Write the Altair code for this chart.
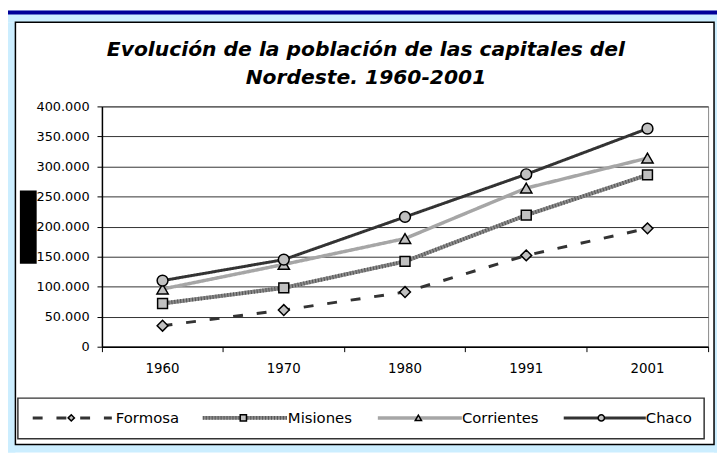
import altair as alt
import pandas as pd

# ---------------- data ----------------
years = ["1960", "1970", "1980", "1991", "2001"]
series_names = ["Formosa", "Misiones", "Corrientes", "Chaco"]
formosa = [35000, 61000, 91000, 152000, 197000]
misiones = [72000, 98000, 142000, 219000, 286000]
corrientes = [96000, 137000, 180000, 264000, 314000]
chaco = [110000, 145000, 216000, 287000, 363000]
y_ticks = [0, 50000, 100000, 150000, 200000, 250000, 300000, 350000, 400000]
title_lines = ["Evolución de la población de las capitales del", "Nordeste. 1960-2001"]

series_values = {"Formosa": formosa, "Misiones": misiones,
                 "Corrientes": corrientes, "Chaco": chaco}
rows = [{"year": y, "series": s, "value": v}
        for s in series_names for y, v in zip(years, series_values[s])]
df = pd.DataFrame(rows)
one = pd.DataFrame({"k": [0]})

# ---------------- styling ----------------
W, H = 613, 243
FONT = "DejaVu Sans"
TITLE_FONT = "DejaVu Sans"
LIGHT_BLUE = "#CCEEFF"
DARK_BLUE = "#000099"
MARK_FILL = "#C0C0C0"

styles = {
    "Formosa": dict(color="#333333", width=3, dash=[10, 14], shape="diamond", size=120),
    "Misiones": dict(color="#8C8C8C", width=4, dash=[1, 0], shape="square", size=100),
    "Corrientes": dict(color="#A6A6A6", width=3.5, dash=[1, 0], shape="triangle-up", size=130),
    "Chaco": dict(color="#333333", width=3, dash=[1, 0], shape="circle", size=120),
}
# legend layout: line start, line end, marker x, label x (plot pixel space)
legend_layout = {
    "Formosa": (-70, 10, -31, 14),
    "Misiones": (102, 187, 143, 188),
    "Corrientes": (279, 364, 320, 364),
    "Chaco": (467, 550, 505, 550),
}
LEG_Y = 315

x_enc = alt.X(
    "year:O", sort=years,
    scale=alt.Scale(type="band", domain=years, paddingInner=0, paddingOuter=0),
    bandPosition=0.5,
    axis=alt.Axis(title=None, bandPosition=1, tickExtra=True,
                  tickSize=5, labelPadding=10, grid=False, labelAngle=0,
                  labelFontSize=13.5),
)
y_enc = alt.Y(
    "value:Q",
    scale=alt.Scale(domain=[0, 400000], nice=False),
    axis=alt.Axis(title=None, values=y_ticks,
                  labelExpr="replace(format(datum.value, ','), ',', '.')",
                  tickSize=5, labelPadding=8, grid=True, gridColor="#333333",
                  gridWidth=1, labelFontSize=13),
)


def rect(x, x2, y, y2, **kw):
    return alt.Chart(one).mark_rect(**kw).encode(
        x=alt.value(x), x2=alt.value(x2), y=alt.value(y), y2=alt.value(y2))


layers = []
# frame around the white panel
layers.append(rect(-95, 622, -97, -85, color=LIGHT_BLUE))
layers.append(rect(-95, 622, -97, -93, color=DARK_BLUE))
layers.append(rect(-95, -87.5, -85, 350, color=LIGHT_BLUE))
layers.append(rect(619, 622, -85, 350, color=LIGHT_BLUE))
layers.append(rect(-95, 622, 342, 350, color=LIGHT_BLUE))
layers.append(rect(-87.5, 619, -85, 342, fill="white", fillOpacity=0,
                   stroke="black", strokeWidth=1.5))
# black block left of the axis
layers.append(rect(-83, -66, 85, 159, color="black"))
# legend box
layers.append(rect(-85, 609, 295, 336, fill="white", stroke="#333333", strokeWidth=1.5))

# title
for i, line in enumerate(title_lines):
    layers.append(alt.Chart(one).mark_text(
        font=TITLE_FONT, fontSize=20.5, fontWeight="bold", fontStyle="italic",
        color="black", align="center", baseline="alphabetic").encode(
        x=alt.value(267), y=alt.value(-51 + 28 * i), text=alt.value(line)))

# series lines
for s in series_names:
    st = styles[s]
    base = alt.Chart(df).transform_filter(alt.datum.series == s)
    layers.append(base.mark_line(color=st["color"], strokeWidth=st["width"],
                                 strokeDash=st["dash"]).encode(x=x_enc, y=y_enc))
    if s == "Misiones":
        layers.append(base.mark_line(color="#555555", strokeWidth=st["width"],
                                     strokeDash=[1, 2]).encode(x=x_enc, y=y_enc))

# series markers
for s in series_names:
    st = styles[s]
    base = alt.Chart(df).transform_filter(alt.datum.series == s)
    layers.append(base.mark_point(shape=st["shape"], size=st["size"], filled=True,
                                  fill=MARK_FILL, stroke="black", strokeWidth=1.5,
                                  opacity=1).encode(x=x_enc, y=y_enc))

# custom legend
for s in series_names:
    st = styles[s]
    x0, x1, mx, tx = legend_layout[s]
    layers.append(alt.Chart(one).mark_rule(color=st["color"], strokeWidth=st["width"],
                                           strokeDash=st["dash"]).encode(
        x=alt.value(x0), x2=alt.value(x1), y=alt.value(LEG_Y)))
    if s == "Misiones":
        layers.append(alt.Chart(one).mark_rule(color="#555555", strokeWidth=st["width"],
                                               strokeDash=[1, 2]).encode(
            x=alt.value(x0), x2=alt.value(x1), y=alt.value(LEG_Y)))
    layers.append(alt.Chart(one).mark_point(shape=st["shape"], size=40, filled=True,
                                            fill=MARK_FILL, stroke="black",
                                            strokeWidth=1.5, opacity=1).encode(
        x=alt.value(mx), y=alt.value(LEG_Y)))
    layers.append(alt.Chart(one).mark_text(font=FONT, fontSize=15, color="black",
                                           align="left", baseline="middle").encode(
        x=alt.value(tx), y=alt.value(LEG_Y), text=alt.value(s)))

chart = alt.layer(*layers).properties(
    width=W, height=H,
    padding={"left": 95, "top": 97, "right": 9, "bottom": 107},
    autosize=alt.AutoSizeParams(type="none"),
    background="white",
).configure_view(
    stroke="#888888", strokeWidth=1
).configure_axis(
    labelFont=FONT, labelColor="black", domainColor="black", tickColor="black",
    domainWidth=1.5,
)

chart.save("out.html", embed_options={"renderer": "svg", "actions": False})
